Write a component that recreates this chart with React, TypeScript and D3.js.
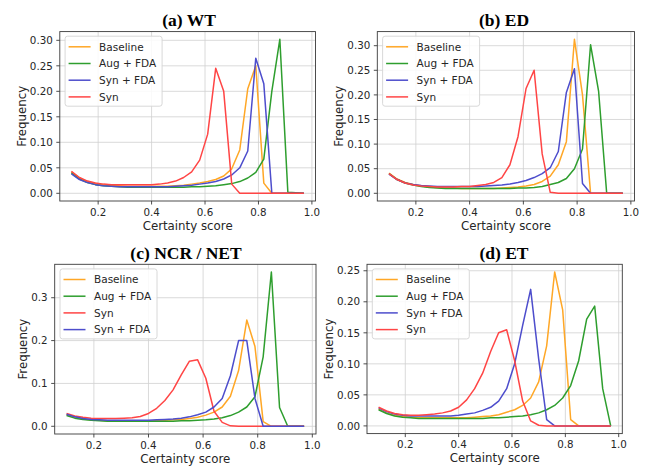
import React from "react";
import * as d3 from "d3";

const scores = [0.10, 0.13, 0.16, 0.19, 0.22, 0.25, 0.28, 0.31, 0.34, 0.37, 0.40, 0.43, 0.46, 0.49, 0.52, 0.55, 0.58, 0.61, 0.64, 0.67, 0.70, 0.73, 0.76, 0.79, 0.82, 0.85, 0.88, 0.91, 0.94, 0.97];

// (a) WT
const wtBaseline = [0.042, 0.030, 0.023, 0.019, 0.017, 0.016, 0.015, 0.014, 0.014, 0.014, 0.014, 0.014, 0.014, 0.015, 0.016, 0.018, 0.020, 0.023, 0.027, 0.034, 0.048, 0.085, 0.205, 0.250, 0.020, 0.000, 0.000, 0.000, 0.000, 0.000];
const wtAugFda = [0.040, 0.028, 0.021, 0.017, 0.015, 0.014, 0.013, 0.012, 0.012, 0.012, 0.012, 0.012, 0.012, 0.012, 0.012, 0.013, 0.013, 0.014, 0.015, 0.017, 0.019, 0.023, 0.030, 0.041, 0.067, 0.200, 0.302, 0.002, 0.001, 0.000];
const wtSynFda = [0.038, 0.027, 0.021, 0.017, 0.015, 0.014, 0.013, 0.013, 0.013, 0.013, 0.013, 0.013, 0.013, 0.014, 0.015, 0.016, 0.018, 0.020, 0.023, 0.028, 0.036, 0.050, 0.083, 0.265, 0.215, 0.000, 0.000, 0.000, 0.000, 0.000];
const wtSyn = [0.043, 0.031, 0.024, 0.020, 0.018, 0.017, 0.017, 0.017, 0.017, 0.017, 0.017, 0.018, 0.020, 0.024, 0.031, 0.042, 0.065, 0.116, 0.245, 0.200, 0.018, 0.000, 0.000, 0.000, 0.000, 0.000, 0.000, 0.000, 0.000, 0.000];

// (b) ED
const edBaseline = [0.041, 0.029, 0.022, 0.018, 0.015, 0.013, 0.012, 0.011, 0.011, 0.010, 0.010, 0.010, 0.010, 0.010, 0.011, 0.012, 0.013, 0.015, 0.018, 0.024, 0.035, 0.058, 0.105, 0.313, 0.200, 0.000, 0.000, 0.000, 0.000, 0.000];
const edAugFda = [0.040, 0.028, 0.021, 0.017, 0.014, 0.012, 0.011, 0.010, 0.010, 0.010, 0.010, 0.010, 0.010, 0.010, 0.010, 0.010, 0.011, 0.011, 0.012, 0.014, 0.018, 0.022, 0.030, 0.050, 0.090, 0.302, 0.207, 0.000, 0.000, 0.000];
const edSynFda = [0.039, 0.028, 0.021, 0.018, 0.016, 0.015, 0.014, 0.014, 0.014, 0.014, 0.014, 0.014, 0.015, 0.016, 0.017, 0.019, 0.022, 0.026, 0.032, 0.040, 0.052, 0.085, 0.205, 0.253, 0.020, 0.000, 0.000, 0.000, 0.000, 0.000];
const edSyn = [0.040, 0.028, 0.021, 0.017, 0.015, 0.014, 0.013, 0.013, 0.013, 0.014, 0.014, 0.016, 0.018, 0.022, 0.032, 0.058, 0.115, 0.213, 0.250, 0.080, 0.002, 0.000, 0.000, 0.000, 0.000, 0.000, 0.000, 0.000, 0.000, 0.000];

// (c) NCR / NET
const ncrBaseline = [0.027, 0.021, 0.017, 0.015, 0.014, 0.013, 0.013, 0.013, 0.013, 0.013, 0.013, 0.013, 0.014, 0.015, 0.016, 0.018, 0.021, 0.026, 0.033, 0.045, 0.070, 0.130, 0.248, 0.186, 0.011, 0.000, 0.000, 0.000, 0.000, 0.000];
const ncrAugFda = [0.025, 0.019, 0.016, 0.014, 0.013, 0.012, 0.012, 0.012, 0.012, 0.012, 0.012, 0.012, 0.012, 0.012, 0.013, 0.013, 0.014, 0.015, 0.017, 0.020, 0.025, 0.033, 0.045, 0.069, 0.162, 0.360, 0.044, 0.000, 0.000, 0.000];
const ncrSyn = [0.030, 0.024, 0.021, 0.019, 0.018, 0.018, 0.018, 0.019, 0.020, 0.023, 0.030, 0.042, 0.060, 0.085, 0.120, 0.152, 0.155, 0.112, 0.035, 0.009, 0.001, 0.000, 0.000, 0.000, 0.000, 0.000, 0.000, 0.000, 0.000, 0.000];
const ncrSynFda = [0.028, 0.022, 0.018, 0.016, 0.015, 0.014, 0.014, 0.014, 0.014, 0.014, 0.014, 0.015, 0.016, 0.017, 0.019, 0.022, 0.027, 0.033, 0.045, 0.065, 0.118, 0.200, 0.200, 0.065, 0.000, 0.000, 0.000, 0.000, 0.000, 0.000];

// (d) ET
const etBaseline = [0.027, 0.021, 0.017, 0.015, 0.014, 0.013, 0.013, 0.013, 0.013, 0.013, 0.013, 0.013, 0.014, 0.015, 0.016, 0.018, 0.022, 0.026, 0.033, 0.045, 0.071, 0.129, 0.248, 0.187, 0.010, 0.000, 0.000, 0.000, 0.000, 0.000];
const etAugFda = [0.026, 0.020, 0.016, 0.014, 0.013, 0.012, 0.012, 0.012, 0.012, 0.012, 0.012, 0.012, 0.012, 0.012, 0.013, 0.013, 0.014, 0.015, 0.016, 0.018, 0.021, 0.026, 0.033, 0.045, 0.065, 0.105, 0.172, 0.193, 0.060, 0.000];
const etSynFda = [0.029, 0.023, 0.019, 0.017, 0.016, 0.016, 0.016, 0.016, 0.016, 0.016, 0.017, 0.019, 0.021, 0.025, 0.030, 0.040, 0.060, 0.100, 0.162, 0.220, 0.108, 0.010, 0.000, 0.000, 0.000, 0.000, 0.000, 0.000, 0.000, 0.000];
const etSyn = [0.030, 0.024, 0.020, 0.018, 0.017, 0.017, 0.018, 0.019, 0.021, 0.024, 0.030, 0.042, 0.060, 0.085, 0.120, 0.150, 0.155, 0.105, 0.040, 0.008, 0.001, 0.000, 0.000, 0.000, 0.000, 0.000, 0.000, 0.000, 0.000, 0.000];

const xTicks = [0.2, 0.4, 0.6, 0.8, 1.0];
const yTicksA = [0, 0.05, 0.1, 0.15, 0.2, 0.25, 0.3];
const yTicksC = [0, 0.1, 0.2, 0.3];
const yTicksD = [0, 0.05, 0.1, 0.15, 0.2, 0.25];

const COLORS: Record<string, string> = {
  "Baseline": "#ffa726",
  "Aug + FDA": "#2e9e2e",
  "Syn + FDA": "#4d4dcc",
  "Syn": "#ff4545",
};

const SANS = "'DejaVu Sans', sans-serif";
const SERIF = "'Liberation Serif', 'Times New Roman', serif";

type Series = { name: string; values: number[] };
type PanelSpec = {
  title: string;
  titleX: number;
  titleY: number;
  left: number;
  right: number;
  top: number;
  bottom: number;
  yTicks: number[];
  yDecimals: number;
  series: Series[];
};

const panels: PanelSpec[] = [
  {
    title: "(a) WT", titleX: 189, titleY: 26,
    left: 59.8, right: 315.5, top: 31.6, bottom: 201,
    yTicks: yTicksA, yDecimals: 2,
    series: [
      { name: "Baseline", values: wtBaseline },
      { name: "Aug + FDA", values: wtAugFda },
      { name: "Syn + FDA", values: wtSynFda },
      { name: "Syn", values: wtSyn },
    ],
  },
  {
    title: "(b) ED", titleX: 504, titleY: 26,
    left: 377.3, right: 634.5, top: 31.6, bottom: 201,
    yTicks: yTicksA, yDecimals: 2,
    series: [
      { name: "Baseline", values: edBaseline },
      { name: "Aug + FDA", values: edAugFda },
      { name: "Syn + FDA", values: edSynFda },
      { name: "Syn", values: edSyn },
    ],
  },
  {
    title: "(c) NCR / NET", titleX: 186, titleY: 259,
    left: 54.7, right: 316, top: 264.3, bottom: 434,
    yTicks: yTicksC, yDecimals: 1,
    series: [
      { name: "Baseline", values: ncrBaseline },
      { name: "Aug + FDA", values: ncrAugFda },
      { name: "Syn", values: ncrSyn },
      { name: "Syn + FDA", values: ncrSynFda },
    ],
  },
  {
    title: "(d) ET", titleX: 504, titleY: 259,
    left: 367, right: 622.3, top: 264.3, bottom: 433.6,
    yTicks: yTicksD, yDecimals: 2,
    series: [
      { name: "Baseline", values: etBaseline },
      { name: "Aug + FDA", values: etAugFda },
      { name: "Syn + FDA", values: etSynFda },
      { name: "Syn", values: etSyn },
    ],
  },
];

const TICK_FS = 10.3;
const LABEL_FS = 11.8;
const LEGEND_FS = 10.5;

function textWidth(s: string, fs: number) {
  const w: Record<string, number> = { "0": 0.636, "1": 0.636, "2": 0.636, "3": 0.636, "4": 0.636, "5": 0.636, "6": 0.636, "7": 0.636, "8": 0.636, "9": 0.636, ".": 0.318 };
  let t = 0;
  for (const c of s) t += w[c] ?? 0.6;
  return t * fs;
}

function Panel({ p }: { p: PanelSpec }) {
  const xMin = d3.min(scores)!;
  const xMax = d3.max(scores)!;
  const xPad = (xMax - xMin) * 0.05;
  const allY = p.series.flatMap((s) => s.values);
  const yMin = d3.min(allY)!;
  const yMax = d3.max(allY)!;
  const yPad = (yMax - yMin) * 0.05;
  const x = d3.scaleLinear().domain([xMin - xPad, xMax + xPad]).range([p.left, p.right]);
  const y = d3.scaleLinear().domain([yMin - yPad, yMax + yPad]).range([p.bottom, p.top]);
  const line = d3
    .line<number>()
    .x((_, i) => x(scores[i]))
    .y((v) => y(v));

  const fmt = d3.format(`.${p.yDecimals}f`);
  const maxLabelW = d3.max(p.yTicks, (t) => textWidth(fmt(t), TICK_FS))!;
  const yLabelX = p.left - 7 - maxLabelW - 4;
  const cx = (p.left + p.right) / 2;
  const cy = (p.top + p.bottom) / 2;

  const legX = p.left + 5.3;
  const legY = p.top + 4.6;
  const rowH = 16.7;

  return (
    <g>
      <text x={p.titleX} y={p.titleY} textAnchor="middle" fontFamily={SERIF} fontWeight="bold" fontSize={17.5} fill="#000">
        {p.title}
      </text>
      {/* grid */}
      {xTicks.map((t) => (
        <line key={"gx" + t} x1={x(t)} x2={x(t)} y1={p.top} y2={p.bottom} stroke="#d0d0d0" strokeWidth={0.8} />
      ))}
      {p.yTicks.map((t) => (
        <line key={"gy" + t} x1={p.left} x2={p.right} y1={y(t)} y2={y(t)} stroke="#d0d0d0" strokeWidth={0.8} />
      ))}
      {/* series */}
      {p.series.map((s) => (
        <path key={s.name} d={line(s.values) || ""} fill="none" stroke={COLORS[s.name]} strokeWidth={1.5} strokeLinejoin="round" />
      ))}
      {/* spines */}
      <rect x={p.left} y={p.top} width={p.right - p.left} height={p.bottom - p.top} fill="none" stroke="#3a3a3a" strokeWidth={0.9} />
      {/* x ticks */}
      {xTicks.map((t) => (
        <g key={"xt" + t}>
          <line x1={x(t)} x2={x(t)} y1={p.bottom} y2={p.bottom + 3.5} stroke="#3a3a3a" strokeWidth={0.9} />
          <text x={x(t)} y={p.bottom + 14.8} textAnchor="middle" fontFamily={SANS} fontSize={TICK_FS} fill="#262626">
            {t.toFixed(1)}
          </text>
        </g>
      ))}
      {/* y ticks */}
      {p.yTicks.map((t) => (
        <g key={"yt" + t}>
          <line x1={p.left - 3.5} x2={p.left} y1={y(t)} y2={y(t)} stroke="#3a3a3a" strokeWidth={0.9} />
          <text x={p.left - 7} y={y(t)} dy="0.36em" textAnchor="end" fontFamily={SANS} fontSize={TICK_FS} fill="#262626">
            {fmt(t)}
          </text>
        </g>
      ))}
      {/* axis labels */}
      <text x={cx} y={p.bottom + 28.8} textAnchor="middle" fontFamily={SANS} fontSize={LABEL_FS} fill="#262626">
        Certainty score
      </text>
      <text
        transform={`translate(${yLabelX},${cy}) rotate(-90)`}
        textAnchor="middle"
        fontFamily={SANS}
        fontSize={LABEL_FS}
        fill="#262626"
      >
        Frequency
      </text>
      {/* legend */}
      <rect x={legX} y={legY} width={97} height={70} rx={2.5} fill="#ffffff" fillOpacity={0.85} stroke="#d4d4d4" strokeWidth={0.9} />
      {p.series.map((s, i) => {
        const ry = legY + 10.6 + i * rowH;
        return (
          <g key={"lg" + s.name}>
            <line x1={legX + 3.5} x2={legX + 25.5} y1={ry} y2={ry} stroke={COLORS[s.name]} strokeWidth={1.5} />
            <text x={legX + 34} y={ry} dy="0.36em" fontFamily={SANS} fontSize={LEGEND_FS} fill="#262626">
              {s.name}
            </text>
          </g>
        );
      })}
    </g>
  );
}

export default function App() {
  return (
    <svg
      width={654}
      height={467}
      viewBox="0 0 654 467"
      style={{ position: "absolute", left: 0, top: 0, background: "#fff" }}
    >
      <rect x={0} y={0} width={654} height={467} fill="#fff" />
      {panels.map((p) => (
        <Panel key={p.title} p={p} />
      ))}
    </svg>
  );
}
